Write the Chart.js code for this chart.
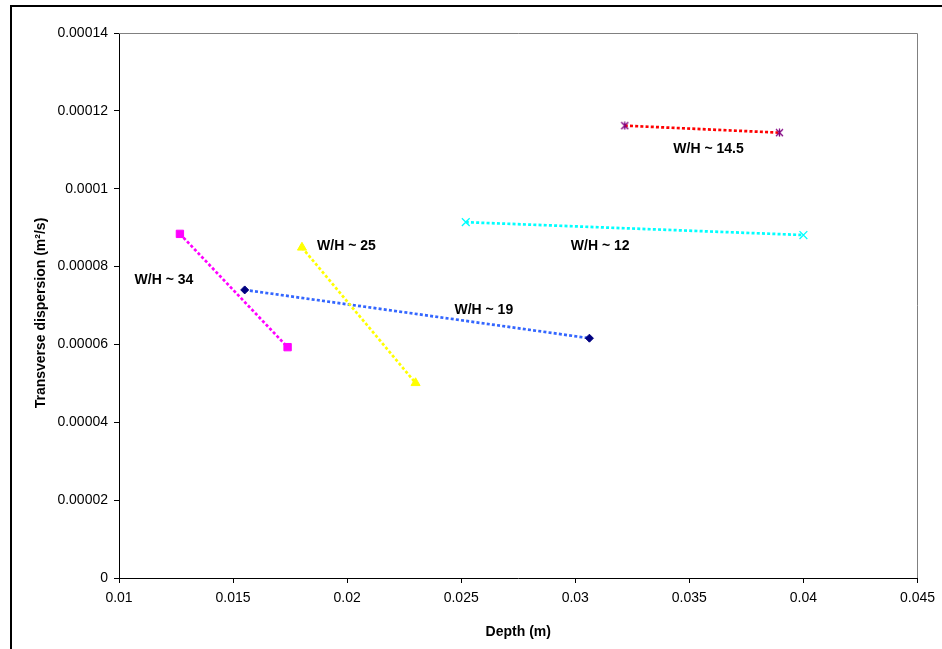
<!DOCTYPE html>
<html><head><meta charset="utf-8">
<script src="https://cdn.jsdelivr.net/npm/chart.js@4"></script>
<style>html,body{margin:0;padding:0;background:#fff}#wrap{width:942px;height:649px;position:relative}</style>
</head><body><div id="wrap"><canvas id="c" width="942" height="649"></canvas></div>
<script>
// ---- data ----
const seriesLabels = ['W/H ~ 14.5', 'W/H ~ 12', 'W/H ~ 34', 'W/H ~ 25', 'W/H ~ 19'];
const depthWH145 = [0.03217, 0.03895];
const dispWH145  = [0.0001162, 0.0001144];
const depthWH12  = [0.0252, 0.0400];
const dispWH12   = [0.0000914, 0.0000881];
const depthWH34  = [0.01267, 0.01739];
const dispWH34   = [0.0000884, 0.0000593];
const depthWH25  = [0.01802, 0.0230];
const dispWH25   = [0.0000849, 0.0000501];
const depthWH19  = [0.01551, 0.03062];
const dispWH19   = [0.0000740, 0.0000616];
// label anchor positions (data units)
const labelDepth = [0.03584, 0.03109, 0.01197, 0.01997, 0.02599];
const labelDisp  = [0.0001105, 0.0000855, 0.0000768, 0.0000855, 0.0000691];
const xTickValues = [0.01, 0.015, 0.02, 0.025, 0.03, 0.035, 0.04, 0.045];
const xTickLabels = ['0.01', '0.015', '0.02', '0.025', '0.03', '0.035', '0.04', '0.045'];
const yTickValues = [0, 0.00002, 0.00004, 0.00006, 0.00008, 0.0001, 0.00012, 0.00014];
const yTickLabels = ['0', '0.00002', '0.00004', '0.00006', '0.00008', '0.0001', '0.00012', '0.00014'];
const xTitle = 'Depth (m)';
const yTitle = 'Transverse dispersion (m\u00B2/s)';

function pts(xs, ys) { return xs.map((x, i) => ({x: x, y: ys[i]})); }

function starCanvas(color) {
  const c = document.createElement('canvas');
  c.width = 9; c.height = 9;
  const g = c.getContext('2d');
  g.strokeStyle = color; g.lineWidth = 1.3;
  g.beginPath();
  g.moveTo(1, 1); g.lineTo(8, 8);
  g.moveTo(8, 1); g.lineTo(1, 8);
  g.moveTo(4.5, 0.5); g.lineTo(4.5, 8.5);
  g.stroke();
  return c;
}

const FONT = "'Liberation Sans', Arial, sans-serif";
const dash = [3, 2.2];

const datasets = [
  {label: seriesLabels[0], data: pts(depthWH145, dispWH145), borderColor: '#FF0000', pointStyle: starCanvas('#800080'), pointRadius: 4},
  {label: seriesLabels[1], data: pts(depthWH12, dispWH12), borderColor: '#00FFFF', pointStyle: 'crossRot', pointRadius: 5.5, pointBorderColor: '#00FFFF', pointBorderWidth: 1.3},
  {label: seriesLabels[2], data: pts(depthWH34, dispWH34), borderColor: '#FF00FF', pointStyle: 'rect', pointRadius: 5.2, pointBackgroundColor: '#FF00FF', pointBorderColor: '#FF00FF', pointBorderWidth: 1},
  {label: seriesLabels[3], data: pts(depthWH25, dispWH25), borderColor: '#FFFF00', pointStyle: 'triangle', pointRadius: 5.2, pointBackgroundColor: '#FFFF00', pointBorderColor: '#FFFF00', pointBorderWidth: 1},
  {label: seriesLabels[4], data: pts(depthWH19, dispWH19), borderColor: '#3366FF', pointStyle: 'rectRot', pointRadius: 4, pointBackgroundColor: '#000080', pointBorderColor: '#000080', pointBorderWidth: 1}
].map(d => Object.assign({showLine: true, borderWidth: 2.7, borderDash: dash, fill: false, tension: 0}, d));

const framePlugin = {
  id: 'frame',
  beforeDraw(chart) {
    const ctx = chart.ctx;
    ctx.save();
    ctx.fillStyle = '#fff';
    ctx.fillRect(0, 0, chart.width, chart.height);
    ctx.strokeStyle = '#000';
    ctx.lineWidth = 2;
    ctx.beginPath();
    ctx.moveTo(11, chart.height + 2);
    ctx.lineTo(11, 6);
    ctx.lineTo(chart.width + 2, 6);
    ctx.stroke();
    ctx.restore();
  },
  beforeDatasetsDraw(chart) {
    const a = chart.chartArea, ctx = chart.ctx;
    ctx.save();
    ctx.strokeStyle = '#808080';
    ctx.lineWidth = 1;
    ctx.beginPath();
    ctx.moveTo(a.left, Math.round(a.top) + 0.5);
    ctx.lineTo(Math.round(a.right) + 0.5, Math.round(a.top) + 0.5);
    ctx.lineTo(Math.round(a.right) + 0.5, a.bottom);
    ctx.stroke();
    ctx.restore();
  },
  afterDatasetsDraw(chart) {
    const ctx = chart.ctx, xs = chart.scales.x, ys = chart.scales.y;
    ctx.save();
    ctx.font = 'bold 14px ' + FONT;
    ctx.fillStyle = '#000';
    ctx.textAlign = 'center';
    ctx.textBaseline = 'alphabetic';
    seriesLabels.forEach((t, i) => {
      ctx.fillText(t, xs.getPixelForValue(labelDepth[i]), ys.getPixelForValue(labelDisp[i]) + 5);
    });
    // y-axis title, rotated
    ctx.translate(41, 313);
    ctx.rotate(-Math.PI / 2);
    ctx.textBaseline = 'middle';
    ctx.fillText(yTitle, 0, 0);
    ctx.restore();
  }
};

const tickFont = {family: FONT, size: 14};
const titleFont = {family: FONT, size: 14, weight: 'bold'};

new Chart(document.getElementById('c'), {
  type: 'scatter',
  data: {datasets: datasets},
  options: {
    responsive: false, animation: false, devicePixelRatio: 1,
    layout: {padding: {left: 0, top: 33, right: 24, bottom: 0}},
    plugins: {legend: {display: false}, tooltip: {enabled: false}},
    scales: {
      x: {
        type: 'linear', min: 0.01, max: 0.045,
        afterBuildTicks: s => { s.ticks = xTickValues.map(v => ({value: v})); },
        afterFit: s => { s.height = 71; },
        ticks: {callback: (v, i) => xTickLabels[i], font: tickFont, color: '#000', padding: 7, maxRotation: 0, autoSkip: false},
        grid: {drawOnChartArea: false, drawTicks: true, tickLength: 5, color: '#000', tickColor: '#000'},
        border: {display: true, color: '#000', width: 1},
        title: {display: true, text: xTitle, font: titleFont, color: '#000', padding: {top: 0, bottom: 8.6}}
      },
      y: {
        type: 'linear', min: 0, max: 0.00014,
        afterBuildTicks: s => { s.ticks = yTickValues.map(v => ({value: v})); },
        afterFit: s => { s.width = 119; },
        ticks: {callback: (v, i) => yTickLabels[i], font: tickFont, color: '#000', padding: 6, autoSkip: false},
        grid: {drawOnChartArea: false, drawTicks: true, tickLength: 5, color: '#000', tickColor: '#000'},
        border: {display: true, color: '#000', width: 1},
        title: {display: false}
      }
    }
  },
  plugins: [framePlugin]
});
</script>
</body></html>
